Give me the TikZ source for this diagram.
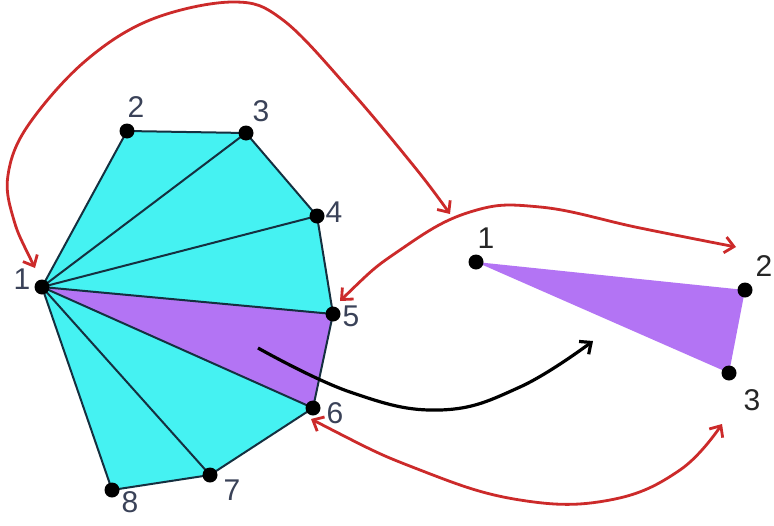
\documentclass[tikz,border=0pt]{standalone}
\usepackage{fontspec}
\setmainfont{Liberation Sans}
\usetikzlibrary{arrows.meta}
\definecolor{cyanfill}{HTML}{45F2F2}
\definecolor{purplefill}{HTML}{B374F4}
\definecolor{redline}{HTML}{CC2A2A}
\definecolor{edgecol}{HTML}{153040}
\definecolor{labcol}{HTML}{3A4258}
\tikzset{
  dot/.style={circle,fill=black,inner sep=0pt,minimum size=15pt},
  lab/.style={font=\fontsize{30}{30}\selectfont,text=labcol,inner sep=0pt},
  labk/.style={font=\fontsize{30}{30}\selectfont,text=black!85,inner sep=0pt},
  edge/.style={draw=edgecol,line width=2pt,line join=round},
  redarrow/.style={draw=redline,line width=2.8pt,{Straight Barb[length=9pt,width=16pt]}-{Straight Barb[length=9pt,width=16pt]}},
  blackarrow/.style={draw=black,line width=3.2pt,-{Straight Barb[length=9pt,width=16pt]}},
}
\begin{document}
\begin{tikzpicture}[x=1pt,y=-1pt]
\useasboundingbox[fill=white] (0,0) rectangle (774,525);
% left polygon vertices
\coordinate (p1) at (42,287);
\coordinate (p2) at (127,131);
\coordinate (p3) at (246,133);
\coordinate (p4) at (317,216);
\coordinate (p5) at (333,314);
\coordinate (p6) at (313,408);
\coordinate (p7) at (210,475);
\coordinate (p8) at (112,490);
% right triangle
\coordinate (q1) at (476,262);
\coordinate (q2) at (745,290);
\coordinate (q3) at (729,373);
% fills
\fill[cyanfill] (p1)--(p2)--(p3)--(p4)--(p5)--(p6)--(p7)--(p8)--cycle;
\fill[purplefill] (p1)--(p5)--(p6)--cycle;
\fill[purplefill] (q1)--(q2)--(q3)--cycle;
% edges
\path[edge] (p1)--(p2)--(p3)--(p4)--(p5)--(p6)--(p7)--(p8)--cycle;
\foreach \k in {3,4,5,6,7} {\path[edge] (p1)--(p\k);}
% dots
\foreach \k in {1,...,8} {\node[dot] (n\k) at (p\k) {};}
\foreach \k in {1,2,3} {\node[dot] (m\k) at (q\k) {};}
% labels
\node[lab] (l1) at (22,279) {1};
\node[lab] (l2) at (136,107) {2};
\node[lab] (l3) at (261,111) {3};
\node[lab] (l4) at (334,212) {4};
\node[lab] (l5) at (351,316) {5};
\node[lab] (l6) at (335,413) {6};
\node[lab] (l7) at (232,490) {7};
\node[lab] (l8) at (130,502) {8};
\node[labk] (k1) at (486,238) {1};
\node[labk] (k2) at (764,266) {2};
\node[labk] (k3) at (752,400) {3};
% free ends of connectors
\coordinate (aS) at (35,268);
\coordinate (aE) at (450,214);
\coordinate (bS) at (340,301);
\coordinate (bE) at (736,247);
\coordinate (cS) at (311,419);
\coordinate (cE) at (722,424);
\coordinate (dS) at (258,348);
\coordinate (dE) at (593,341);
% red curves
\draw[redarrow] plot[smooth,tension=0.6] coordinates {(aS) (13,217) (8,175) (27,127) (83,63) (150,20) (233,2) (283,20) (350,90) (417,170) (aE)};
\draw[redarrow] plot[smooth,tension=0.7] coordinates {(bS) (400,250) (470,212) (540,207) (640,228) (bE)};
\draw[redarrow] plot[smooth,tension=0.7] coordinates {(cS) (420,470) (520,500) (610,500) (680,470) (cE)};
% black curve
\draw[blackarrow] plot[smooth,tension=0.7] coordinates {(dS) (350,392) (440,410) (520,387) (dE)};
\end{tikzpicture}
\end{document}
